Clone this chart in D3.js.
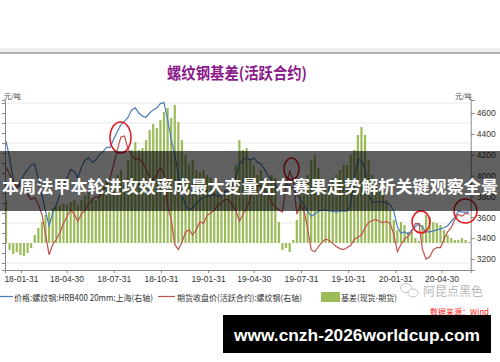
<!DOCTYPE html>
<html>
<head>
<meta charset="utf-8">
<script src="https://cdn.jsdelivr.net/npm/d3@7"></script>
<style>
  body { margin: 0; background: #fff; }
  svg { display: block; }
</style>
</head>
<body>
<svg id="chart" width="500" height="362"></svg>
<script>
// weekly samples, first one on 2018-01-02
const firstWeek = "2018-01-02";

// 价格:螺纹钢:HRB400 20mm:上海 (元/吨)
const spot = [
  4330,4170,3960,3870,3940,4010,4060,4100,4110,3960,
  3820,3660,3520,3640,3720,3820,3910,3980,4060,4040,
  3980,4080,4150,4170,4130,4150,4200,4230,4270,4270,
  4350,4420,4490,4520,4560,4630,4650,4600,4570,4560,
  4600,4630,4650,4690,4700,4540,4350,4200,4010,3820,
  3720,3670,3690,3730,3770,3790,3800,3810,3820,3800,
  3810,3840,3870,3890,3980,4110,4150,4170,4150,4170,
  4130,4110,4060,4000,3960,3910,3870,3890,3910,3910,
  3870,3820,3770,3720,3660,3610,3630,3660,3670,3670,
  3660,3660,3650,3660,3660,3660,3720,3960,4150,4150,
  4060,3820,3740,3750,3750,3750,3740,3720,3660,3510,
  3450,3460,3440,3480,3510,3540,3500,3460,3460,3470,
  3480,3490,3500,3520,3560,3600,3660,3650,3650,3650
];

// 期货收盘价(活跃合约):螺纹钢
const futures = [
  4080,4010,3940,3890,3910,3870,3820,3770,3790,3720,
  3630,3440,3240,3340,3390,3450,3540,3610,3670,3630,
  3560,3630,3670,3730,3770,3800,3790,3850,3910,3980,
  4110,4250,4370,4380,4250,4200,4150,4170,4130,4060,
  3980,3960,4010,4080,4010,3720,3580,3340,3290,3360,
  3460,3480,3430,3480,3560,3540,3620,3640,3670,3720,
  3740,3770,3770,3720,3670,3560,3630,3690,3770,3870,
  3910,3890,3870,3820,3740,3700,3670,3650,3910,4040,
  3960,3630,3720,3660,3500,3290,3270,3320,3360,3390,
  3380,3350,3320,3300,3290,3310,3330,3390,3410,3430,
  3500,3550,3570,3580,3560,3550,3560,3540,3440,3270,
  3340,3390,3420,3460,3540,3540,3290,3200,3220,3290,
  3310,3310,3390,3460,3500,3580,3630,3610,3640,3630
];

// 基差(现货-期货)
const basis = [
   430, -70,-110, -90,-120,-130,-100, -50,  80, 150,
   210, 280, 310, 350, 370, 380, 390, 380, 410, 430,
   380, 430, 470, 510, 450, 430, 510, 580, 630, 610,
   550, 680, 730, 580, 830, 930,1010, 930, 950,1030,
  1130,1190,1150,1230,1310,1350,1250,1380,1210,1030,
   880, 780, 830, 730, 710, 730, 680, 650, 610, 570,
   530, 530, 580, 630, 780,1030, 930, 950, 830, 780,
   680, 730, 650, 620, 680, 650, 210, -70, -50, -90,
    30, 230, 480, 530, 680, 830, 880, 750, 630, 530,
   580, 650, 680, 730, 780, 780, 880, 930,1080,1160,
  1080, 830, 680, 630, 530, 480, 430, 330, 230, 130,
   210, 180, 110, 110,  50,  20, 180, 280, 260, 210,
   200, 180, 130,  80,  50,  30,  30,  50,  30,  10
];

const xTicks = ["2018-01-31","2018-04-30","2018-07-31","2018-10-31","2019-01-31",
                "2019-04-30","2019-07-31","2019-10-31","2020-01-31","2020-04-30"];
const rightTicks = [3200, 3400, 3600, 3800, 4000, 4200, 4400, 4600];
const leftGrid = [-200, 0, 200, 400, 600, 800, 1000, 1200, 1400];

const parse = d3.timeParse("%Y-%m-%d");
const fmt = d3.timeFormat("%y-%m-%d");
const t0 = parse(firstWeek);
const dates = spot.map((d, i) => d3.timeDay.offset(t0, 7 * i));

const svg = d3.select("#chart");
const cjk = "'Noto Sans CJK SC', 'Noto Sans', sans-serif";
const latin = "'Liberation Sans', Arial, sans-serif";

const x = d3.scaleTime()
    .domain([parse("2017-12-31"), parse("2020-06-26")])
    .range([5, 470.7]);
const yR = d3.scaleLinear().domain([3095, 4725]).range([270, 100]);
const yL = d3.scaleLinear().domain([-270, 1430]).range([270, 100]);

// window strip at top
svg.append("rect").attr("x", 0).attr("y", 48).attr("width", 500).attr("height", 5).attr("fill", "#efefef");
svg.append("line").attr("x1", 0).attr("x2", 500).attr("y1", 53).attr("y2", 53)
    .attr("stroke", "#666").attr("stroke-width", 1);

// title
svg.append("text")
    .attr("x", 237).attr("y", 79)
    .attr("text-anchor", "middle")
    .attr("font-family", cjk).attr("font-size", 15.5).attr("font-weight", "bold")
    .attr("fill", "#8b1a8b")
    .attr("textLength", 140).attr("lengthAdjust", "spacingAndGlyphs")
    .text("螺纹钢基差(活跃合约)");

// unit labels
svg.append("text").attr("x", 4).attr("y", 99).attr("font-family", cjk).attr("font-size", 7)
    .attr("fill", "#444").text("元/吨");
svg.append("text").attr("x", 455).attr("y", 99).attr("font-family", cjk).attr("font-size", 7)
    .attr("fill", "#444").text("元/吨");

// gridlines (left axis)
svg.append("g").selectAll("line")
    .data(leftGrid.filter(d => d !== 0))
    .join("line")
    .attr("x1", 5).attr("x2", 470)
    .attr("y1", d => yL(d)).attr("y2", d => yL(d))
    .attr("stroke", "#e8e8e8").attr("stroke-width", 1);

// basis bars
svg.append("g").selectAll("rect")
    .data(basis)
    .join("rect")
    .attr("x", (d, i) => x(dates[i]) - 1.1)
    .attr("width", 2.2)
    .attr("y", d => Math.min(yL(d), yL(0)))
    .attr("height", d => Math.abs(yL(d) - yL(0)))
    .attr("fill", "#9bbb59");

// lines
const line = d3.line().x((d, i) => x(dates[i])).y(d => yR(d));
svg.append("path").datum(spot).attr("d", line)
    .attr("fill", "none").attr("stroke", "#4a7ebb").attr("stroke-width", 1.2);
svg.append("path").datum(futures).attr("d", line)
    .attr("fill", "none").attr("stroke", "#c0504d").attr("stroke-width", 1.2);

// left axis (labels cut off)
const leftAxis = svg.append("g").attr("transform", "translate(5,0)")
    .call(d3.axisLeft(yL).tickValues(d3.range(-200, 1401, 100)).tickSize(3).tickFormat(""));
leftAxis.select(".domain").attr("stroke", "#888");
leftAxis.selectAll(".tick line").attr("stroke", "#888");

// right axis
const rightAxis = svg.append("g").attr("transform", "translate(470.7,0)")
    .call(d3.axisRight(yR).tickValues(rightTicks).tickSize(4).tickPadding(2).tickFormat(d3.format("d")));
rightAxis.select(".domain").attr("stroke", "#888");
rightAxis.selectAll(".tick line").attr("stroke", "#888");
rightAxis.selectAll("text").attr("font-family", latin).attr("font-size", 8.5).attr("fill", "#333");

// bottom axis
const bottomAxis = svg.append("g").attr("transform", "translate(0,270)")
    .call(d3.axisBottom(x).tickValues(xTicks.map(parse)).tickSize(3).tickPadding(3).tickFormat(fmt));
bottomAxis.select(".domain").attr("stroke", "#888");
bottomAxis.selectAll(".tick line").attr("stroke", "#888");
bottomAxis.selectAll("text").attr("font-family", latin).attr("font-size", 8.5).attr("fill", "#333");

// red marker circles
const marks = [
  {cx: 120.5, cy: 137.5, rx: 10.5, ry: 15.5},
  {cx: 291.5, cy: 169, rx: 7.5, ry: 11},
  {cx: 421, cy: 222, rx: 9, ry: 11},
  {cx: 465.5, cy: 211, rx: 11.5, ry: 12}
];
svg.append("g").selectAll("ellipse")
    .data(marks)
    .join("ellipse")
    .attr("cx", d => d.cx).attr("cy", d => d.cy)
    .attr("rx", d => d.rx).attr("ry", d => d.ry)
    .attr("fill", "none").attr("stroke", "#e8141c").attr("stroke-width", 1.5);

// legend
const legend = svg.append("g").attr("font-family", cjk).attr("font-size", 8.5).attr("fill", "#333");
legend.append("line").attr("x1", 0).attr("x2", 13).attr("y1", 296.5).attr("y2", 296.5)
    .attr("stroke", "#4a7ebb").attr("stroke-width", 1.2);
legend.append("text").attr("x", 14).attr("y", 300.5)
    .attr("textLength", 139).attr("lengthAdjust", "spacingAndGlyphs")
    .text("价格:螺纹钢:HRB400 20mm:上海(右轴)");
legend.append("line").attr("x1", 158).attr("x2", 175).attr("y1", 296.5).attr("y2", 296.5)
    .attr("stroke", "#c0504d").attr("stroke-width", 1.2);
legend.append("text").attr("x", 177).attr("y", 300.5)
    .attr("textLength", 125).attr("lengthAdjust", "spacingAndGlyphs")
    .text("期货收盘价(活跃合约):螺纹钢(右轴)");
legend.append("rect").attr("x", 321).attr("y", 292).attr("width", 19).attr("height", 10)
    .attr("fill", "#9bbb59");
legend.append("text").attr("x", 341).attr("y", 300.5)
    .attr("textLength", 56).attr("lengthAdjust", "spacingAndGlyphs")
    .text("基差(现货-期货)");

// wechat watermark
const wm = svg.append("g").attr("fill", "none").attr("stroke", "#c4c4c4").attr("stroke-width", 1);
wm.append("ellipse").attr("cx", 406).attr("cy", 288).attr("rx", 5.5).attr("ry", 4.5);
wm.append("ellipse").attr("cx", 413).attr("cy", 293).attr("rx", 5).attr("ry", 4).attr("fill", "#fff");
svg.append("text").attr("x", 423).attr("y", 295.5)
    .attr("font-family", cjk).attr("font-size", 12.5).attr("fill", "#b8b8b8")
    .attr("textLength", 60).attr("lengthAdjust", "spacingAndGlyphs")
    .text("阿昆点黑色");

// source note (partly hidden)
svg.append("text").attr("x", 430).attr("y", 315)
    .attr("font-family", cjk).attr("font-size", 8).attr("fill", "#ff2020")
    .text("数据来源：Wind");

// headline banner
svg.append("rect").attr("x", 0).attr("y", 151).attr("width", 500).attr("height", 60)
    .attr("fill", "#000").attr("fill-opacity", 0.62);
svg.append("text").attr("x", 250).attr("y", 193)
    .attr("text-anchor", "middle")
    .attr("font-family", cjk).attr("font-size", 17.5).attr("font-weight", "bold")
    .attr("fill", "#fff")
    .attr("textLength", 496).attr("lengthAdjust", "spacingAndGlyphs")
    .text("本周法甲本轮进攻效率成最大变量左右赛果走势解析关键观察全景");

// url box
svg.append("rect").attr("x", 223).attr("y", 315).attr("width", 268).attr("height", 38).attr("fill", "#000");
svg.append("text").attr("x", 357).attr("y", 341)
    .attr("text-anchor", "middle")
    .attr("font-family", latin).attr("font-size", 17).attr("font-weight", "bold")
    .attr("fill", "#fff")
    .attr("textLength", 246).attr("lengthAdjust", "spacingAndGlyphs")
    .text("www.cnzh-2026worldcup.com");
</script>
</body>
</html>
